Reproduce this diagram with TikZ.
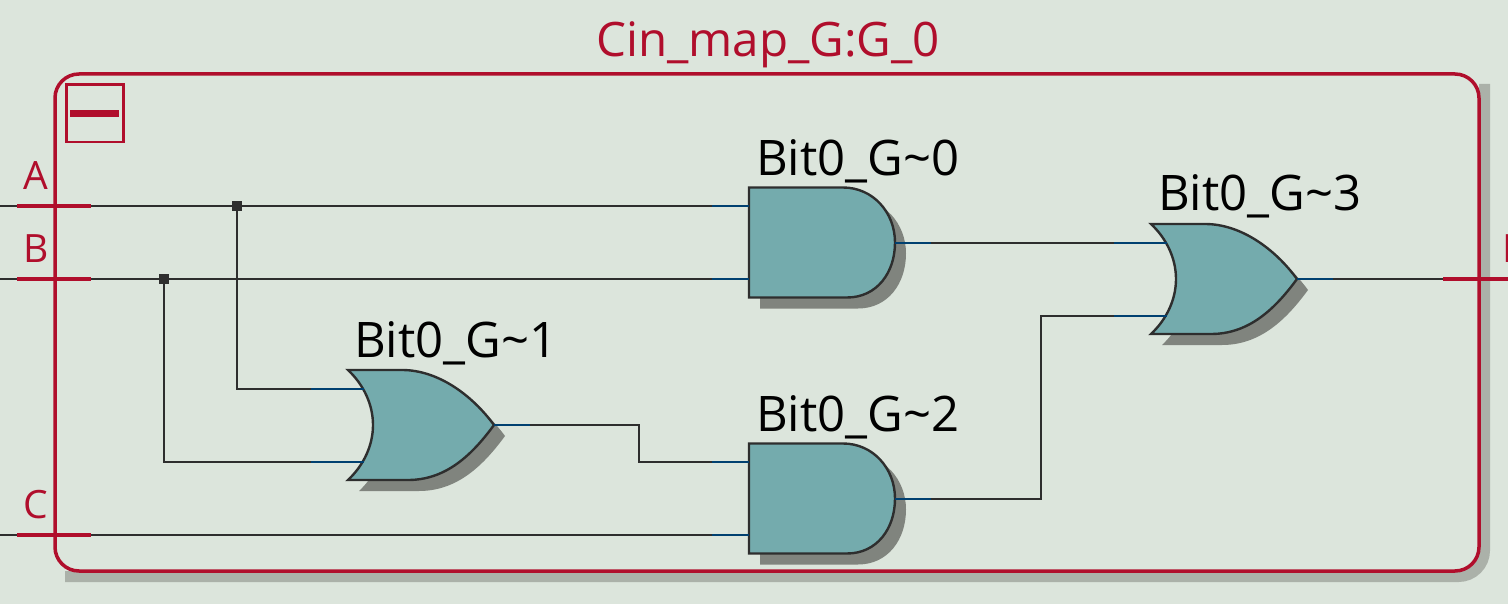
\documentclass[tikz,border=0pt]{standalone}
\usepackage{fontspec}
\setmainfont{Open Sans}
\usetikzlibrary{positioning}
\definecolor{mback}{RGB}{220, 229, 220}
\definecolor{mred}{RGB}{176, 14, 44}
\definecolor{mgate}{RGB}{116, 171, 173}
\definecolor{mshadow}{RGB}{128, 132, 126}
\definecolor{mframeshadow}{RGB}{171, 177, 169}
\definecolor{mwire}{RGB}{46, 46, 46}
\definecolor{mpin}{RGB}{0, 64, 112}
\tikzset{wire/.style = {draw=mwire, line width=2pt}}
\tikzset{pinwire/.style = {draw=mpin, line width=2pt}}
\tikzset{portwire/.style = {draw=mred, line width=3.5pt}}
\tikzset{gatelabel/.style = {anchor=base west, inner sep=0pt, font=\fontsize{49}{49}\selectfont}}
\tikzset{titlelabel/.style = {gatelabel, text=mred, font=\fontsize{47.5}{47.5}\selectfont}}
\tikzset{redlabel/.style = {gatelabel, text=mred, font=\fontsize{39}{39}\selectfont}}
\tikzset{junction/.style = {fill=mwire, inner sep=0pt, minimum size=10pt}}
\tikzset{gatebody/.style = {fill=mgate, draw=mwire, line width=2.4pt, line join=miter}}
\newcommand{\andoutline}{(0, 0) -- (94, 0) .. controls (124, 0) and (146, 25) .. (146, 55)
    .. controls (146, 85) and (128, 110) .. (98, 110) -- (0, 110) -- cycle}
\newcommand{\oroutline}{(0, 0) -- (54, 0) .. controls (90, 0) and (124, 25) .. (146, 55)
    .. controls (124, 85) and (98, 110) .. (60, 110) -- (0, 110)
    .. controls (16, 95) and (25, 75) .. (25, 55) .. controls (25, 35) and (16, 15) .. (0, 0) -- cycle}
\tikzset{andgate/.pic = {
    \fill [mshadow, shift={(11, 11)}] \andoutline;
    \draw [gatebody] \andoutline;
    \coordinate (-a) at (0, 18.5);
    \coordinate (-b) at (0, 91.5);
    \coordinate (-as) at (-37, 18.5);
    \coordinate (-bs) at (-37, 91.5);
    \coordinate (-o) at (146, 55.5);
    \coordinate (-os) at (182, 55.5);
}}
\tikzset{orgate/.pic = {
    \fill [mshadow, shift={(11, 11)}] \oroutline;
    \draw [gatebody] \oroutline;
    \coordinate (-a) at (16, 19);
    \coordinate (-b) at (16, 92);
    \coordinate (-as) at (-37, 19);
    \coordinate (-bs) at (-37, 92);
    \coordinate (-o) at (146, 55);
    \coordinate (-os) at (182, 55);
}}

\begin{document}
\begin{tikzpicture}[x=1pt, y=-1pt]
      \useasboundingbox (0, 0) rectangle (1508, 604);
      \clip (0, 0) rectangle (1508, 604);
      \fill [mback] (0, 0) rectangle (1508, 604);
      % block frame
      \draw [mframeshadow, line width=11pt, rounded corners=26pt] (65, 576.5) -- (1484.5, 576.5) -- (1484.5, 84);
      \draw [mred, line width=3.5pt, rounded corners=24pt] (55, 74) rectangle (1479, 571);
      \node [titlelabel] (title) at (596, 57) {Cin\_map\_G:G\_0};
      \draw [mred, line width=2.2pt] (66.5, 84.5) rectangle (123.5, 142);
      \fill [mred] (70, 110) rectangle (119, 117);
      % ports
      \coordinate (pa) at (0, 206);
      \coordinate (pb) at (0, 279);
      \coordinate (pc) at (0, 535);
      \coordinate (pf) at (1508, 279);
      \node [redlabel] (la) at (23, 190) {A};
      \node [redlabel] (lb) at (23, 262) {B};
      \node [redlabel] (lc) at (23, 518) {C};
      \node [redlabel] (lf) at (1502, 262) {F};
      % gates
      \pic (g0) at (749, 187.5) {andgate};
      \pic (g1) at (348, 370) {orgate};
      \pic (g2) at (749, 443.5) {andgate};
      \pic (g3) at (1151, 224) {orgate};
      \node [gatelabel] (l0) at (756, 176) {Bit0\_G\textasciitilde 0};
      \node [gatelabel] (l1) at (354, 357) {Bit0\_G\textasciitilde 1};
      \node [gatelabel] (l2) at (756, 431) {Bit0\_G\textasciitilde 2};
      \node [gatelabel] (l3) at (1158, 211) {Bit0\_G\textasciitilde 3};
      % wires
      \draw [wire] (pa) -- (g0-as);
      \draw [wire] (pb) -- (g0-bs);
      \draw [wire] (pc) -- (g2-bs);
      \node [junction] (ja) at (pa -| 237, 0) {};
      \node [junction] (jb) at (pb -| 164, 0) {};
      \draw [wire] (ja) |- (g1-as);
      \draw [wire] (jb) |- (g1-bs);
      \draw [wire] (g1-os) -- (639, 425) |- (g2-as);
      \draw [wire] (g0-os) -- (g3-as);
      \draw [wire] (g2-os) -- (1041, 499) |- (g3-bs);
      \draw [wire] (g3-os) -- (pf);
      % pin stubs
      \foreach \g in {g0, g1, g2, g3} {
        \draw [pinwire] (\g-as) -- (\g-a);
        \draw [pinwire] (\g-bs) -- (\g-b);
        \draw [pinwire] (\g-o) -- (\g-os);
      }
      % port ticks
      \draw [portwire] (17, 206) -- (91, 206);
      \draw [portwire] (17, 279) -- (91, 279);
      \draw [portwire] (17, 535) -- (91, 535);
      \draw [portwire] (1443, 279) -- (pf);
    \end{tikzpicture}
\end{document}
